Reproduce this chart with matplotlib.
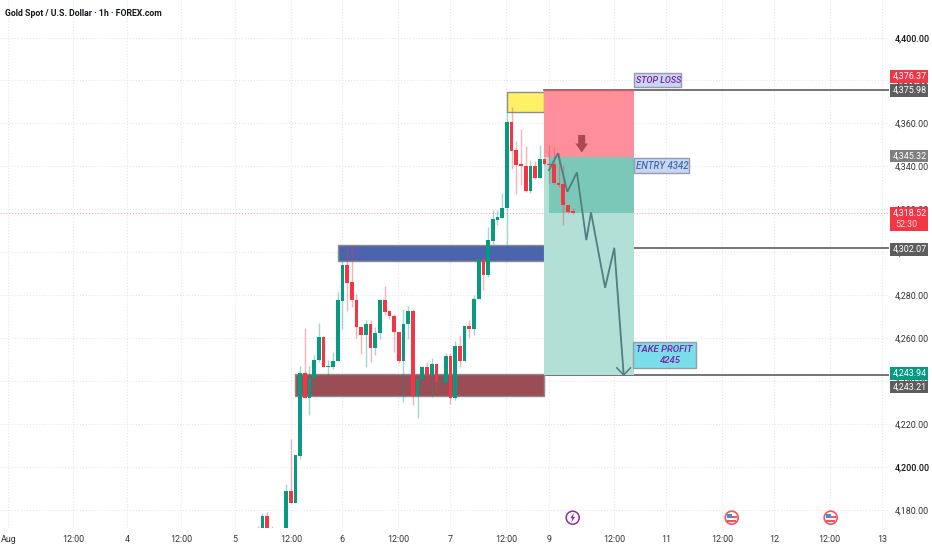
from matplotlib import pyplot as plt
from matplotlib.patches import Rectangle, Circle, Polygon
import numpy as np

# hourly candles (bar number, open, high, low, close)
bars = [-6, -5, -4, -3] + list(range(62))
opens = [4171.0, 4170.0, 4177.2, 4171.0,
         4165.0, 4188.8, 4183.3, 4205.3, 4243.6, 4232.2, 4241.7, 4249.8, 4260.5, 4246.5, 4246.7,
         4249.3, 4277.5, 4294.3, 4286.0, 4278.0, 4265.1, 4261.5, 4266.7, 4255.5, 4262.2, 4277.7,
         4272.5, 4270.4, 4262.8, 4249.6, 4266.7, 4272.5, 4233.0, 4240.8, 4246.5, 4242.8, 4248.2,
         4239.7, 4239.8, 4251.9, 4232.2, 4256.3, 4249.6, 4265.7, 4264.2, 4278.1, 4296.7, 4289.5,
         4305.3, 4315.2, 4316.1, 4320.5, 4360.6, 4347.4, 4340.9, 4340.2, 4328.5, 4340.0, 4334.7,
         4343.6, 4341.2, 4340.9, 4332.4, 4331.6, 4322.0, 4319.1]
highs = [4172.4, 4178.5, 4179.3, 4172.4,
         4192.1, 4213.0, 4205.6, 4247.3, 4264.6, 4247.0, 4252.1, 4267.3, 4260.5, 4249.8, 4253.6,
         4281.4, 4300.2, 4302.5, 4303.6, 4280.5, 4265.1, 4268.4, 4268.4, 4265.0, 4278.3, 4284.3,
         4273.0, 4271.5, 4262.8, 4273.6, 4274.9, 4273.8, 4240.8, 4247.3, 4249.1, 4250.7, 4248.2,
         4240.8, 4252.9, 4252.9, 4258.8, 4261.4, 4265.7, 4268.7, 4280.0, 4297.5, 4297.5, 4312.0,
         4319.5, 4319.8, 4327.6, 4365.3, 4367.6, 4351.8, 4357.5, 4349.3, 4342.8, 4342.5, 4349.8,
         4344.0, 4349.8, 4349.0, 4346.2, 4340.5, 4322.0, 4320.8]
lows = [4165.0, 4165.0, 4165.0, 4165.0,
        4165.0, 4183.1, 4183.1, 4203.6, 4232.2, 4224.3, 4236.6, 4249.0, 4246.4, 4243.1, 4245.6,
        4249.3, 4264.2, 4272.7, 4274.6, 4260.1, 4252.6, 4246.7, 4249.0, 4252.2, 4259.8, 4270.7,
        4269.1, 4253.6, 4248.5, 4230.4, 4259.8, 4228.8, 4222.9, 4237.8, 4238.9, 4232.7, 4234.3,
        4235.8, 4239.8, 4229.4, 4231.3, 4246.7, 4249.6, 4260.3, 4261.5, 4278.1, 4282.3, 4288.5,
        4304.0, 4312.6, 4316.1, 4301.9, 4338.6, 4327.3, 4331.2, 4328.0, 4327.6, 4334.3, 4334.7,
        4340.5, 4332.2, 4331.9, 4330.4, 4312.9, 4318.3, 4318.0]
closes = [4170.0, 4177.2, 4170.0, 4170.0,
          4188.8, 4183.3, 4205.6, 4243.6, 4232.2, 4241.7, 4249.8, 4260.5, 4246.4, 4247.0, 4249.6,
          4277.7, 4294.3, 4285.9, 4277.7, 4265.1, 4261.5, 4266.7, 4255.5, 4262.3, 4277.7, 4272.2,
          4270.2, 4262.8, 4249.6, 4266.7, 4272.5, 4233.0, 4240.8, 4246.5, 4243.1, 4248.2, 4239.4,
          4240.2, 4251.9, 4232.2, 4256.3, 4249.6, 4265.7, 4264.2, 4278.1, 4296.7, 4289.5, 4305.5,
          4315.3, 4316.3, 4320.6, 4360.6, 4347.1, 4340.6, 4340.0, 4328.5, 4340.0, 4334.7, 4343.6,
          4340.9, 4340.6, 4332.2, 4331.5, 4321.9, 4318.8, 4318.5]

# drawn zones and levels
sell_zone = (2, 55, 4233.1, 4243.5)
resist_zone = (11, 55, 4296.1, 4303.5)
top_zone = (47, 55, 4365.2, 4374.8)
stop_level, entry_level, now_level, target_level = 4375.6, 4344.5, 4318.5, 4242.9
level_lines = [4375.6, 4302.1, 4242.9]
path_bars = [55.96, 57.87, 59.85, 61.9, 63.9, 64.9, 67.9, 69.85, 71.85]
path_prices = [4338.3, 4346.1, 4328.2, 4337.2, 4305.7, 4318.6, 4283.5, 4302.1, 4242.9]

# axis labels
price_ticks = np.arange(4180, 4420, 20)
day_ticks = [-59.1, -45.3, -33.8, -22.3, -10.9, 1.06, 11.9, 23.8, 34.9, 46.8, 56, 69.8, 80.9, 92.8, 103.8, 115.7, 126.8]
day_labels = ['Aug', '12:00', '4', '12:00', '5', '12:00', '6', '12:00', '7', '12:00', '9', '12:00', '11', '12:00', '12', '12:00', '13']

GREEN = '#089981'
RED = '#f23645'
SCALE_FONT = 6.4
plt.rcParams['font.family'] = ['Roboto', 'DejaVu Sans']

fig = plt.figure(figsize=(9.32, 5.5), dpi=100)
ax = fig.add_axes([0, 22 / 550, 889 / 932, 528 / 550])
ax.set_xlim(-60.85, 128.3)
ax.set_ylim(4171.65, 4417.46)
for s in ax.spines.values():
    s.set_visible(False)

ax.set_yticks(price_ticks)
ax.set_yticklabels([f'{p:,.2f}' for p in price_ticks], fontsize=SCALE_FONT, color='#333333')
ax.yaxis.tick_right()
ax.set_xticks(day_ticks)
ax.set_xticklabels(day_labels, fontsize=SCALE_FONT, color='#333333')
ax.tick_params(length=0, axis='y', pad=4)
ax.tick_params(length=0, axis='x', pad=5)
ax.grid(True, linestyle=':', color='#e4e6ea', linewidth=0.8)
ax.set_axisbelow(True)
for lab in ax.get_yticklabels():
    if lab.get_text() in ('4,400.00', '4,200.00'):
        lab.set_color('#111111')
        lab.set_fontweight('medium')

# last price line
ax.axhline(now_level, color='#f7a5ad', linestyle=':', linewidth=0.8, zorder=1)

# zones
for (b0, b1, lo, hi), col in zip([sell_zone, resist_zone, top_zone], ['#9a4d55', '#4c64ae', '#fff066']):
    ax.add_patch(Rectangle((b0, lo), b1 - b0, hi - lo, facecolor=col, edgecolor='#8c8c8c', linewidth=1.0, zorder=2))

for lev in level_lines:
    ax.plot([55, 128.3], [lev, lev], color='#5c5c5c', linewidth=1.2, zorder=1.5)

# short position tool
ax.add_patch(Rectangle((55, entry_level), 19, stop_level - entry_level, facecolor='#fe8e99', edgecolor='none', zorder=2))
ax.plot([55, 74], [stop_level, stop_level], color='#cf5c68', linewidth=1.0, zorder=2.1)
ax.add_patch(Rectangle((55, target_level), 19, entry_level - target_level, facecolor='#b2e0d7', edgecolor='none', zorder=2))
ax.add_patch(Rectangle((56, now_level), 18, entry_level - now_level, facecolor='#7cc8b8', edgecolor='none', zorder=2.1))

# candles
for b, o, h, l, c in zip(bars, opens, highs, lows, closes):
    col = GREEN if c >= o else RED
    ax.plot([b, b], [l, h], color=col, alpha=0.38, linewidth=1.0, zorder=3, solid_capstyle='butt')
    ax.bar(b, max(abs(c - o), 0.6), bottom=min(o, c), width=0.78, color=col, zorder=3.1)

# forecast path and arrow head
ax.plot(path_bars, path_prices, color='#4f7f7e', linewidth=1.3, zorder=4, solid_joinstyle='miter')
ax.plot([70.4, path_bars[-1], 73.3], [4246.2, path_prices[-1], 4246.2], color='#4f7f7e', linewidth=1.1, zorder=4)

# everything from here on is placed in pixels
ov = fig.add_axes([0, 0, 1, 1], facecolor='none')
ov.set_xlim(0, 932)
ov.set_ylim(550, 0)
ov.axis('off')

ov.text(5, 13, 'Gold Spot / U.S. Dollar · 1h · FOREX.com', fontsize=6.3, fontweight='bold', color='#131722', va='center')

# red sell arrow
ov.add_patch(Polygon([(578.2, 135), (585.2, 135), (585.2, 143.5), (588, 143.5), (581.7, 152.5), (575.4, 143.5), (578.2, 143.5)],
                     closed=True, facecolor='#a84a50', edgecolor='none'))

# note boxes
ov.add_patch(Rectangle((634, 72.7), 47, 14.6, facecolor='#c9d5f5', edgecolor='#9a9aaa', linewidth=1))
ov.text(636, 80.3, 'STOP LOSS', fontsize=6.4, fontweight='medium', style='italic', color='#7b1fa2', va='center')
ov.add_patch(Rectangle((634, 158), 55, 15, facecolor='#c9d5f5', edgecolor='#9a9aaa', linewidth=1))
ov.text(636, 165.8, 'ENTRY 4342', fontsize=6.9, fontweight='medium', style='italic', color='#3f6fa8', va='center')
ov.add_patch(Rectangle((633, 342), 63, 26.3, facecolor='#79deea', edgecolor='#8ea0a6', linewidth=1))
ov.text(636, 349.8, 'TAKE PROFIT', fontsize=6.8, fontweight='medium', style='italic', color='#7b1fa2', va='center')
ov.text(660, 360.5, '4245', fontsize=6.8, fontweight='medium', style='italic', color='#7b1fa2', va='center')

# price scale labels
scale_labels = [(70, 82.7, '4,376.37', RED), (84, 96.7, '4,375.98', '#5d5d5d'), (150, 162.3, '4,345.32', '#808080'),
                (242.7, 255.7, '4,302.07', '#5d5d5d'), (367.3, 380, '4,243.94', GREEN), (380.7, 393.3, '4,243.21', '#5d5d5d')]
for top, bot, txt, col in scale_labels:
    ov.add_patch(Rectangle((890, top), 38, bot - top, facecolor=col, edgecolor='none'))
    ov.text(909.5, (top + bot) / 2, txt, fontsize=SCALE_FONT, color='white', ha='center', va='center')
ov.add_patch(Rectangle((890, 207), 38, 24, facecolor=RED, edgecolor='none'))
ov.text(909.5, 213.5, '4,318.52', fontsize=SCALE_FONT, color='white', ha='center', va='center')
ov.text(895, 224.5, '52:30', fontsize=SCALE_FONT, color='#ffd5d9', ha='left', va='center')

# event icons on the time axis
ov.add_patch(Circle((572.7, 517.7), 6.5, facecolor='white', edgecolor='#8e2ea0', linewidth=1.1))
ov.add_patch(Polygon([(574.2, 512.7), (570.2, 518.3), (572.4, 518.3), (571.2, 522.7), (575.2, 516.8), (573, 516.8)],
                     closed=True, facecolor='#8e2ea0', edgecolor='none'))
for cx in (731.7, 830.7):
    ov.add_patch(Circle((cx, 517.7), 6.5, facecolor='white', edgecolor='#f7525f', linewidth=1.2))
    ov.add_patch(Rectangle((cx - 5, 513.5), 5.5, 4, facecolor='#4a90c0', edgecolor='none'))
    ov.add_patch(Rectangle((cx + 0.5, 516), 4.5, 1.8, facecolor='#f7525f', edgecolor='none'))
    ov.add_patch(Rectangle((cx - 4.5, 520), 9, 1.6, facecolor='#f7525f', edgecolor='none'))

fig.savefig('out.png', dpi=100)
